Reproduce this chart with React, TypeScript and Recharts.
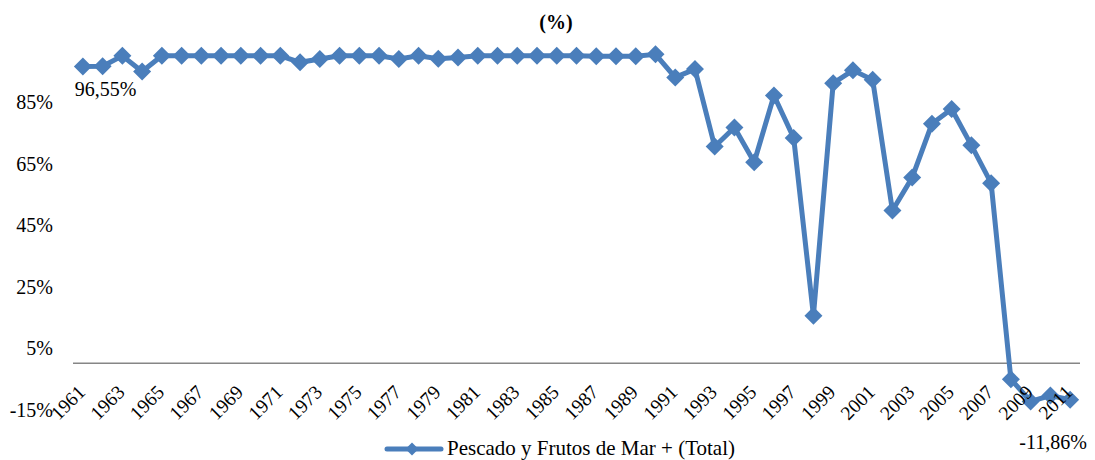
import { LineChart, Line, XAxis, YAxis, ReferenceLine, Legend, LabelList } from 'recharts'

const years = [
  1961, 1962, 1963, 1964, 1965, 1966, 1967, 1968, 1969, 1970,
  1971, 1972, 1973, 1974, 1975, 1976, 1977, 1978, 1979, 1980,
  1981, 1982, 1983, 1984, 1985, 1986, 1987, 1988, 1989, 1990,
  1991, 1992, 1993, 1994, 1995, 1996, 1997, 1998, 1999, 2000,
  2001, 2002, 2003, 2004, 2005, 2006, 2007, 2008, 2009, 2010, 2011,
]

const pescado = [
  96.55, 96.6, 100, 94.9, 100, 100, 100, 100, 100, 100,
  100, 97.9, 99.0, 100, 100, 100, 99.0, 100, 99.1, 99.5,
  100, 100, 100, 100, 100, 100, 99.9, 99.9, 99.9, 100.5,
  93.0, 95.7, 70.5, 76.7, 65.4, 87.1, 73.3, 15.5, 91.1, 95.3,
  92.2, 49.7, 60.4, 77.9, 82.7, 70.9, 58.6, -5.2, -12.4, -10.5, -11.86,
]

const yTicks = [-15, 5, 25, 45, 65, 85]

const seriesName = 'Pescado y Frutos de Mar + (Total)'
const labelled = [0, years.length - 1]

const data = years.map((y, i) => ({ year: String(y), value: pescado[i] }))

const FONT = 'Liberation Serif'
const BLUE = '#4A7EBB'

const fmt = (v: number) => v.toFixed(2).replace('.', ',') + '%'

const Diamond = (props: any) => {
  const { cx, cy, index } = props
  if (cx == null || cy == null) return <g key={index} />
  const r = 9
  return (
    <polygon
      key={index}
      points={`${cx},${cy - r} ${cx + r},${cy} ${cx},${cy + r} ${cx - r},${cy}`}
      fill={BLUE}
    />
  )
}

const YearTick = (props: any) => {
  const { x, y, payload } = props
  return (
    <text
      transform={`translate(${x + 3.5},${y - 16}) rotate(-45)`}
      textAnchor="end"
      style={{ fontSize: '19.5px', fontFamily: FONT }}
      fill="#000"
    >
      {payload.value}
    </text>
  )
}

const PointLabel = (props: any) => {
  const { x, y, value, index } = props
  if (!labelled.includes(index)) return null
  const first = index === 0
  return (
    <text
      x={first ? x - 8 : x - 17}
      y={first ? y + 23 : y + 42}
      dy="0.35em"
      textAnchor={first ? 'start' : 'middle'}
      fontSize={20}
      fontFamily={FONT}
      fill="#000"
    >
      {fmt(value)}
    </text>
  )
}

const LegendContent = () => (
  <div style={{ display: 'flex', alignItems: 'center', justifyContent: 'center', fontFamily: FONT, fontSize: 21 }}>
    <svg width={60} height={20} style={{ marginRight: 3 }}>
      <line x1={3} y1={10} x2={57} y2={10} stroke={BLUE} strokeWidth={5} strokeLinecap="round" />
      <polygon points="28,3.5 34.5,10 28,16.5 21.5,10" fill={BLUE} />
    </svg>
    <span>{seriesName}</span>
  </div>
)

export default function App() {
  return (
    <div style={{ position: 'absolute', left: 0, top: 0, width: 1095, height: 460, background: '#fff' }}>
      <div
        style={{
          position: 'absolute', left: 0, top: 8, width: 1112, textAlign: 'center',
          fontFamily: FONT, fontSize: 20, fontWeight: 'bold', lineHeight: '28px',
        }}
      >
        (%)
      </div>
      <LineChart
        width={1095}
        height={460}
        data={data}
        margin={{ top: 40.5, right: 15, bottom: 49.6, left: 0 }}
      >
        <XAxis
          dataKey="year"
          scale="band"
          interval={1}
          height={1}
          axisLine={false}
          tickLine={false}
          tickSize={0}
          tickMargin={0}
          tick={<YearTick />}
        />
        <YAxis
          width={73}
          domain={[-15, 105]}
          ticks={yTicks}
          axisLine={false}
          tickLine={false}
          tickSize={0}
          tickMargin={20}
          tickFormatter={(v: number) => `${v}%`}
          tick={{ fill: '#000', fontSize: 20, fontFamily: FONT }}
        />
        <ReferenceLine y={0} stroke="#868686" strokeWidth={1.5} ifOverflow="extendDomain" />
        <Legend
          layout="horizontal"
          verticalAlign="middle"
          align="center"
          content={<LegendContent />}
          wrapperStyle={{ top: 436, left: 12, width: 1095, height: 24 }}
        />
        <Line
          type="linear"
          dataKey="value"
          name={seriesName}
          stroke={BLUE}
          strokeWidth={5}
          dot={<Diamond />}
          activeDot={false}
          isAnimationActive={false}
        >
          <LabelList dataKey="value" content={<PointLabel />} />
        </Line>
      </LineChart>
    </div>
  )
}
